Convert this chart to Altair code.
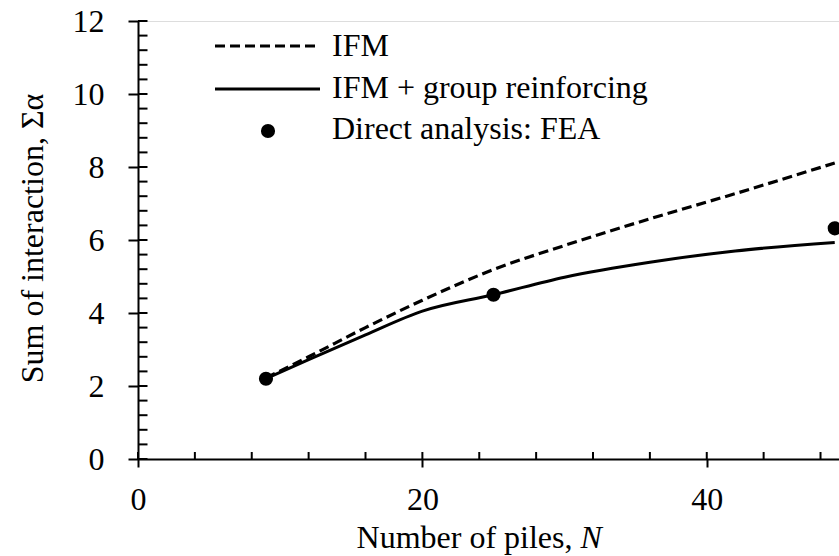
import altair as alt
import pandas as pd

# Number of piles in the group, N
piles = [9, 12, 16, 20, 25, 30, 36, 42, 49]
# Sum of interaction factors, interaction factor method (IFM)
ifm = [2.22, 2.80, 3.60, 4.35, 5.19, 5.85, 6.58, 7.27, 8.11]
# IFM including the group reinforcing effect
ifm_reinf = [2.20, 2.72, 3.40, 4.05, 4.50, 4.98, 5.39, 5.70, 5.93]
# Direct analysis by finite elements
fea_piles = [9, 25, 49]
fea_sum = [2.20, 4.50, 6.32]

# Axis ticks
x_major = [0, 20, 40]
x_minor = [4, 8, 12, 16, 24, 28, 32, 36, 44, 48]
y_major = [0, 2, 4, 6, 8, 10, 12]
y_minor = [round(i * 0.4, 1) for i in range(31) if i % 5]

legend_labels = ["IFM", "IFM + group reinforcing", "Direct analysis: FEA"]

FONT = "Liberation Serif"
FS = 32
W, H = 701, 438
LEFT, TOP = 138, 21
INK = "black"

curves = pd.DataFrame({"N": piles, "ifm": ifm, "reinf": ifm_reinf})
fea = pd.DataFrame({"N": fea_piles, "sum": fea_sum})

xs = alt.Scale(domain=[0, 49.3], nice=False, zero=False)
ys = alt.Scale(domain=[0, 12], nice=False)

x_axis = alt.Axis(values=x_major, format="d", tickSize=8, tickWidth=2, tickColor=INK,
                  domainColor=INK, domainWidth=2, labelFont=FONT, labelFontSize=FS,
                  labelColor=INK, labelPadding=17, labelFlush=False, grid=False, title=None)
y_axis = alt.Axis(values=y_major, format="d", tickSize=10, tickWidth=2, tickColor=INK,
                  domainColor=INK, domainWidth=2, labelFont=FONT, labelFontSize=FS,
                  labelColor=INK, labelPadding=24, grid=False,
                  title="Sum of interaction, Σα", titleFont=FONT, titleFontSize=FS,
                  titleFontWeight="normal", titleColor=INK, titleX=-96, titleY=217,
                  titleBaseline="alphabetic", titleAlign="center", titleAngle=270)

base = alt.Chart(curves)

dashed = base.mark_line(color=INK, strokeWidth=3.2, strokeDash=[10, 5],
                        interpolate="monotone").encode(
    x=alt.X("N:Q", scale=xs, axis=x_axis),
    y=alt.Y("ifm:Q", scale=ys, axis=y_axis),
)
solid = base.mark_line(color=INK, strokeWidth=3, interpolate="monotone").encode(
    x=alt.X("N:Q", scale=xs),
    y=alt.Y("reinf:Q", scale=ys),
)
dots = alt.Chart(fea).mark_circle(color=INK, opacity=1, size=200).encode(
    x=alt.X("N:Q", scale=xs),
    y=alt.Y("sum:Q", scale=ys),
)

# inward-facing tick marks (major ticks cross the axis line)
x_in = alt.Chart(pd.DataFrame({"t": x_major + x_minor})).mark_rule(
    color=INK, strokeWidth=2).encode(
    x=alt.X("t:Q", scale=xs), y=alt.value(H), y2=alt.value(H - 7))
y_in = alt.Chart(pd.DataFrame({"t": y_major + y_minor})).mark_rule(
    color=INK, strokeWidth=2).encode(
    y=alt.Y("t:Q", scale=ys), x=alt.value(0), x2=alt.value(9.5))


def one(text):
    return alt.Chart(pd.DataFrame({"label": [text]}))


def label(text, x, y, align="left", style="normal"):
    return one(text).mark_text(font=FONT, fontSize=FS, color=INK, align=align,
                               baseline="alphabetic", fontStyle=style).encode(
        x=alt.value(x), y=alt.value(y), text="label:N")


# x-axis title with italic N
x_title = label("Number of piles,", 434.5, 527, align="right") + \
    label("N", 442.5, 527, style="italic")

# legend
leg_dash = one(legend_labels[0]).mark_rule(color=INK, strokeWidth=3.2,
                                           strokeDash=[10, 5]).encode(
    x=alt.value(77), x2=alt.value(182), y=alt.value(25))
leg_solid = one(legend_labels[1]).mark_rule(color=INK, strokeWidth=3).encode(
    x=alt.value(77), x2=alt.value(182), y=alt.value(68))
leg_dot = one(legend_labels[2]).mark_circle(color=INK, opacity=1, size=200).encode(
    x=alt.value(130), y=alt.value(110))
leg_text = (label(legend_labels[0], 194, 35) + label(legend_labels[1], 194, 77)
            + label(legend_labels[2], 194, 118))

chart = alt.layer(
    dashed, solid, dots, x_in, y_in, x_title, leg_dash, leg_solid, leg_dot, leg_text
).properties(
    width=W, height=H,
    padding={"left": LEFT, "top": TOP, "right": 0, "bottom": 556 - TOP - H},
    autosize=alt.AutoSizeParams(type="none"),
    background="white",
).configure_view(
    stroke=None
).configure_axis(
    labelFont=FONT, titleFont=FONT
).configure_text(
    font=FONT
).configure(
    font=FONT
)

chart.save("out.html", embed_options={"renderer": "svg", "actions": False})
